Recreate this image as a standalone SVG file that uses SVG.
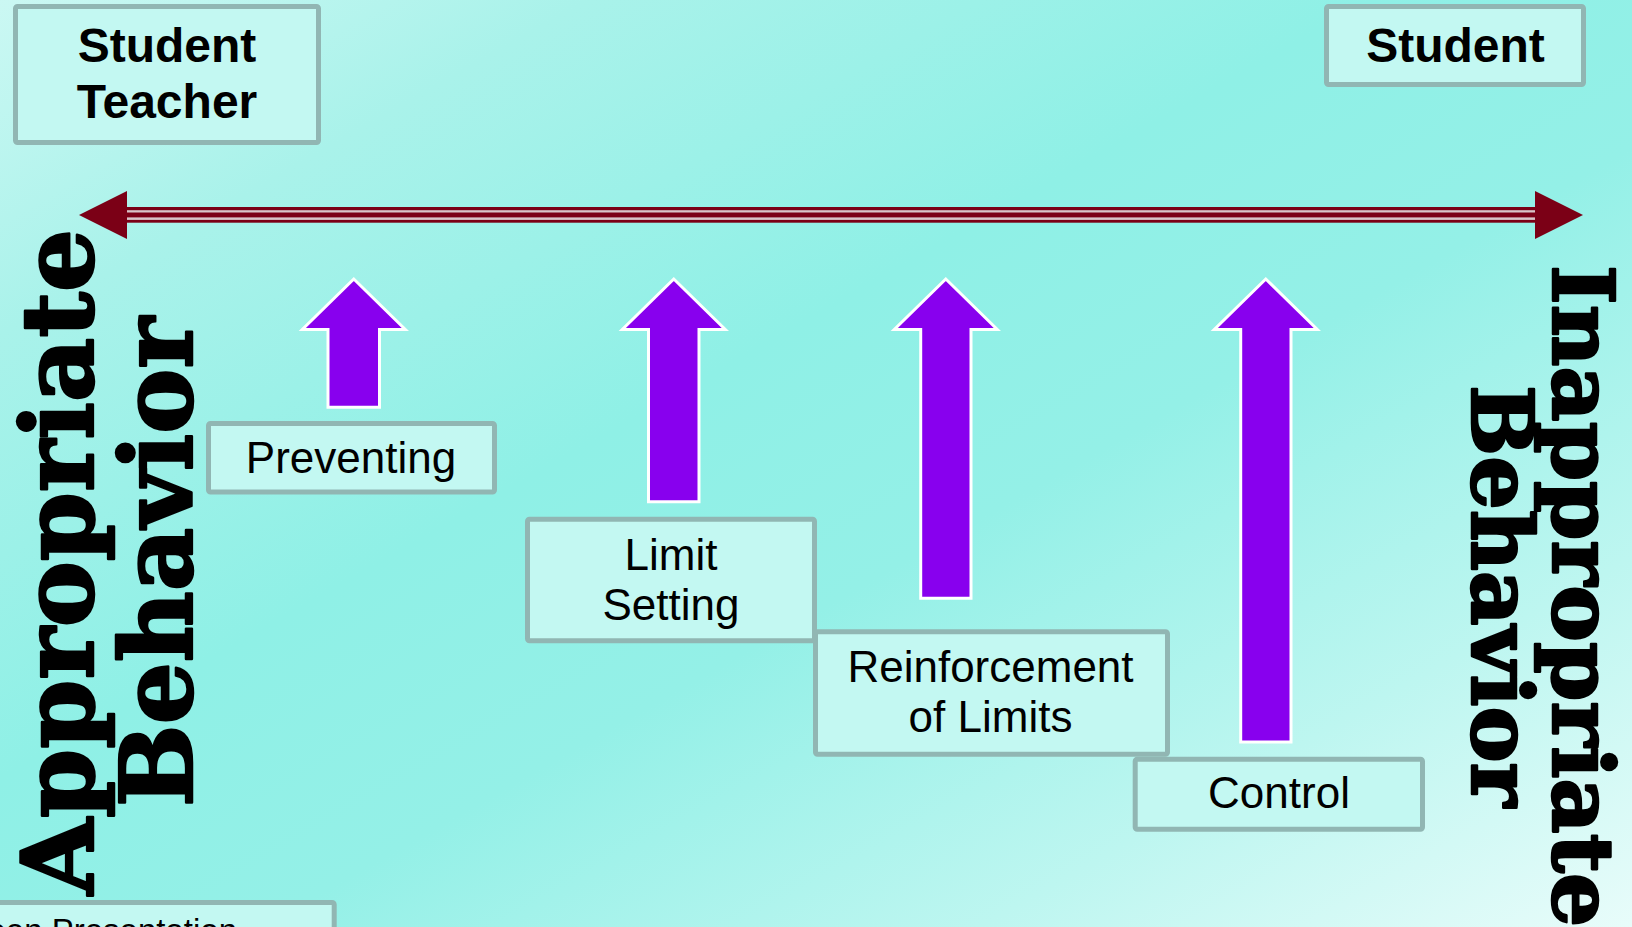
<svg xmlns="http://www.w3.org/2000/svg" width="1632" height="927" viewBox="0 0 1632 927">
  <defs>
    <linearGradient id="bg" x1="0" y1="0" x2="1" y2="1">
      <stop offset="0" stop-color="#cbf8f3"/>
      <stop offset="0.18" stop-color="#a9f2ea"/>
      <stop offset="0.42" stop-color="#8ff0e6"/>
      <stop offset="0.58" stop-color="#94f0e7"/>
      <stop offset="0.8" stop-color="#bdf6f0"/>
      <stop offset="1" stop-color="#e8fcfa"/>
    </linearGradient>
    <style>
      .box { fill: #c3f8f2; stroke: #91b6b3; stroke-width: 5; }
      .lbl { font-family: "Liberation Sans", Arial, sans-serif; font-size: 44px; fill: #000; text-anchor: middle; }
      .hdr { font-family: "Liberation Sans", Arial, sans-serif; font-size: 48px; font-weight: bold; fill: #000; text-anchor: middle; }
      .big { font-family: "DejaVu Serif", "Liberation Serif", serif; font-weight: bold; fill: #000; stroke: #000; stroke-width: 2.5; stroke-linejoin: round; text-anchor: middle; }
      .up { fill: #8800ee; stroke: #ffffff; stroke-width: 3; stroke-linejoin: miter; }
      .red { fill: #7b0016; }
    </style>
  </defs>

  <!-- background -->
  <rect x="0" y="0" width="1632" height="927" fill="url(#bg)"/>

  <!-- connectors: behaviour scale and upward arrows -->
  <g id="connectors">
    <g id="scale">
      <rect class="red" x="126" y="207" width="1410" height="15.7"/>
      <rect x="126" y="210.2" width="1410" height="2.3" fill="#d8c4c8"/>
      <rect x="126" y="217.4" width="1410" height="2.5" fill="#d8c4c8"/>
      <polygon class="red" points="79,215 127,191 127,239"/>
      <polygon class="red" points="1583,215 1535,191 1535,239"/>
    </g>
    <polygon id="arrow-preventing" class="up" points="353.8,279 302.3,329.5 328,329.5 328,407.3 379.5,407.3 379.5,329.5 405.3,329.5"/>
    <polygon id="arrow-limit" class="up" points="673.8,279 622.3,329.5 648.5,329.5 648.5,501.7 699,501.7 699,329.5 725.3,329.5"/>
    <polygon id="arrow-reinforcement" class="up" points="945.8,279 894.3,329.5 920.7,329.5 920.7,598.3 971,598.3 971,329.5 997.3,329.5"/>
    <polygon id="arrow-control" class="up" points="1265.8,279 1214.3,329.5 1240.7,329.5 1240.7,742 1291,742 1291,329.5 1317.3,329.5"/>
  </g>

  <!-- header boxes -->
  <g id="student-teacher">
    <rect class="box" x="15.5" y="6.5" width="303" height="136" rx="2"/>
    <text class="hdr" x="167" y="62">Student</text>
    <text class="hdr" x="167" y="118">Teacher</text>
  </g>
  <g id="student">
    <rect class="box" x="1326.5" y="6.5" width="257" height="78" rx="2"/>
    <text class="hdr" x="1455.5" y="62">Student</text>
  </g>

  <!-- intervention steps -->
  <g id="preventing">
    <rect class="box" x="208.5" y="423.5" width="286" height="68.5" rx="2"/>
    <text class="lbl" x="351" y="473">Preventing</text>
  </g>
  <g id="reinforcement">
    <rect class="box" x="815.5" y="631.8" width="352" height="122.5" rx="2"/>
    <text class="lbl" x="990.5" y="681.7">Reinforcement</text>
    <text class="lbl" x="990.5" y="731.7">of Limits</text>
  </g>
  <g id="limit-setting">
    <rect class="box" x="527.5" y="519.2" width="287" height="121.6" rx="2"/>
    <text class="lbl" x="671" y="570">Limit</text>
    <text class="lbl" x="671" y="620">Setting</text>
  </g>
  <g id="control">
    <rect class="box" x="1135.2" y="759.2" width="287.3" height="70" rx="2"/>
    <text class="lbl" x="1279" y="808.3">Control</text>
  </g>

  <!-- footer box, mostly below the page edge -->
  <g id="footer">
    <rect class="box" x="-10" y="902.5" width="344.2" height="60" rx="2"/>
    <text x="237" y="941.5" font-family="Liberation Sans, Arial, sans-serif" font-size="33" text-anchor="end" fill="#000">een Presentation</text>
  </g>

  <!-- axis end labels -->
  <g id="appropriate-behavior">
    <text class="big" font-size="100" transform="translate(93,562) rotate(-90)" textLength="666" lengthAdjust="spacingAndGlyphs">Appropriate</text>
    <text class="big" font-size="100" transform="translate(192,562) rotate(-90)" textLength="490" lengthAdjust="spacingAndGlyphs">Behavior</text>
  </g>
  <g id="inappropriate-behavior">
    <text class="big" font-size="84" transform="translate(1553,596) rotate(90)" textLength="662" lengthAdjust="spacingAndGlyphs">Inappropriate</text>
    <text class="big" font-size="84" transform="translate(1472,596) rotate(90)" textLength="422" lengthAdjust="spacingAndGlyphs">Behavior</text>
  </g>
</svg>
